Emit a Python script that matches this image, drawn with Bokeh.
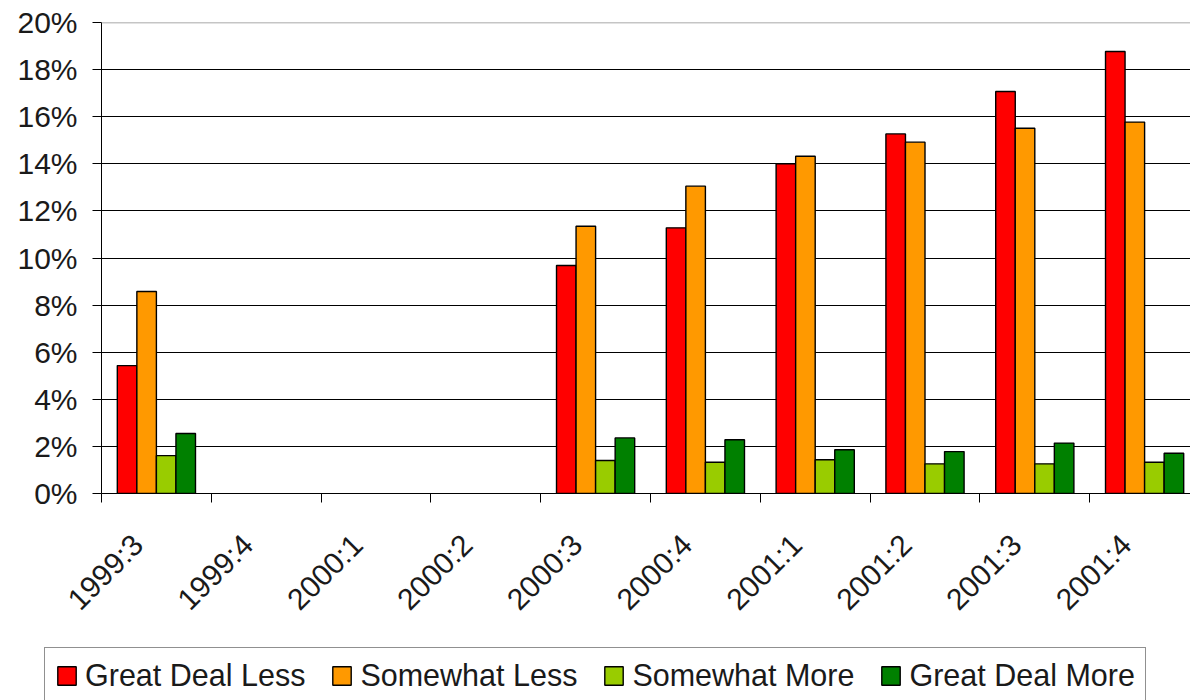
from math import pi, nan

from bokeh.plotting import figure
from bokeh.models import (ColumnDataSource, FixedTicker, PrintfTickFormatter,
                          Span, Legend, LegendItem, Range1d)
from bokeh.transform import dodge
from bokeh.embed import file_html
from bokeh.resources import INLINE

# Survey quarters and share of respondents (%) per answer
quarters = ["1999:3", "1999:4", "2000:1", "2000:2", "2000:3",
            "2000:4", "2001:1", "2001:2", "2001:3", "2001:4"]
great_deal_less = [5.43, nan, nan, nan, 9.68, 11.28, 14.0, 15.27, 17.07, 18.77]
somewhat_less = [8.58, nan, nan, nan, 11.35, 13.05, 14.32, 14.92, 15.51, 15.77]
somewhat_more = [1.61, nan, nan, nan, 1.40, 1.33, 1.43, 1.26, 1.26, 1.33]
great_deal_more = [2.55, nan, nan, nan, 2.36, 2.28, 1.86, 1.78, 2.14, 1.71]
y_ticks = [0, 2, 4, 6, 8, 10, 12, 14, 16, 18, 20]

series_names = ["Great Deal Less", "Somewhat Less", "Somewhat More", "Great Deal More"]
series_colors = ["#FF0000", "#FF9900", "#99CC00", "#008000"]
series_cols = ["gdl", "swl", "swm", "gdm"]

centers = [i + 0.5 for i in range(len(quarters))]
source = ColumnDataSource(dict(
    x=centers,
    gdl=great_deal_less, swl=somewhat_less,
    swm=somewhat_more, gdm=great_deal_more,
))

FONT = "Liberation Sans"
TEXT = "#1a1a1a"

p = figure(width=1190, height=647, output_backend="svg", toolbar_location=None,
           x_range=Range1d(0, 9.918), y_range=Range1d(0, 20),
           min_border_left=101, min_border_right=0,
           min_border_top=22, min_border_bottom=154)
p.outline_line_color = None
p.background_fill_color = "white"
p.border_fill_color = "white"

bar_w = 0.178
offsets = [-0.267, -0.089, 0.089, 0.267]
for col, color, off in zip(series_cols, series_colors, offsets):
    p.vbar(x=dodge("x", off), top=col, width=bar_w, bottom=0,
           source=source, fill_color=color,
           line_color="black", line_width=1.4)

# gridlines
p.xgrid.visible = False
p.ygrid.ticker = FixedTicker(ticks=y_ticks[1:-1])
p.ygrid.grid_line_color = "black"
p.ygrid.grid_line_width = 1
p.ygrid.level = "underlay"
p.add_layout(Span(location=20, dimension="width", line_color="#8c8c8c",
                  line_width=1.5))

# y axis
ya = p.yaxis[0]
ya.ticker = FixedTicker(ticks=y_ticks)
ya.formatter = PrintfTickFormatter(format="%d%%")
ya.axis_line_color = "black"
ya.major_tick_line_color = "black"
ya.major_tick_out = 9
ya.major_tick_in = 0
ya.minor_tick_line_color = None
ya.major_label_standoff = 15
ya.major_label_text_font = FONT
ya.major_label_text_font_size = "30px"
ya.major_label_text_color = TEXT

# x axis: boundary ticks drawn as minor ticks, quarter labels near the centers
label_pos = [round(c - 0.17, 3) for c in centers]
xa = p.xaxis[0]
xa.ticker = FixedTicker(ticks=label_pos, minor_ticks=list(range(len(quarters) + 1)))
xa.major_label_overrides = {c: q for c, q in zip(label_pos, quarters)}
xa.major_label_orientation = pi / 4
xa.axis_line_color = "black"
xa.major_tick_line_color = None
xa.major_tick_out = 0
xa.major_tick_in = 0
xa.minor_tick_line_color = "black"
xa.minor_tick_out = 9
xa.minor_tick_in = 0
xa.major_label_standoff = 37
xa.major_label_text_font = FONT
xa.major_label_text_font_size = "30px"
xa.major_label_text_color = TEXT

# legend strip under the chart
lg = figure(width=1190, height=53, output_backend="svg", toolbar_location=None,
            x_range=Range1d(0, 1), y_range=Range1d(0, 1),
            min_border=0, x_axis_type=None, y_axis_type=None)
lg.outline_line_color = None
lg.xgrid.visible = False
lg.ygrid.visible = False
items = []
for name, color in zip(series_names, series_colors):
    # small swatch renderer that sits behind the legend box
    r = lg.vbar(x=[0.5], top=[0.5], bottom=[0.45], width=0.005, fill_color=color,
                line_color="black", line_width=1.4)
    items.append(LegendItem(label=name, renderers=[r]))

legend = Legend(items=items, orientation="horizontal",
                location=(44, -4),
                label_text_font=FONT, label_text_font_size="30.5px",
                label_text_color=TEXT,
                glyph_width=23, glyph_height=23, label_standoff=7,
                spacing=25, padding=10, label_height=35, margin=0,
                border_line_color="#222222", border_line_width=1.5,
                background_fill_color="white", background_fill_alpha=1)
lg.add_layout(legend, "center")

open("out.html", "w").write(file_html([p, lg], INLINE))
